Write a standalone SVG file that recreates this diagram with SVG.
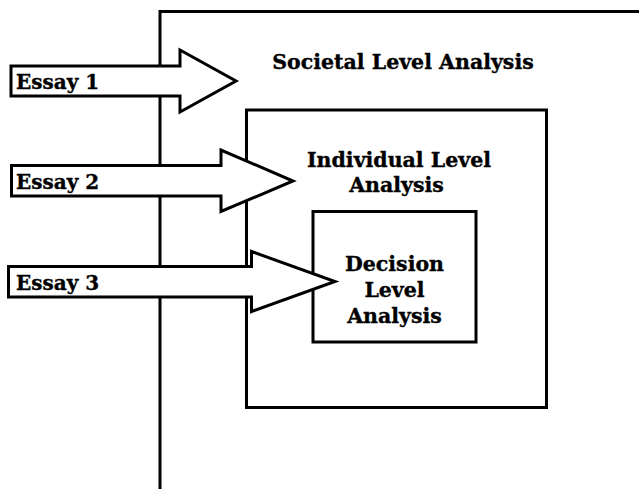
<svg xmlns="http://www.w3.org/2000/svg" width="639" height="489" viewBox="0 0 639 489">
  <style>
    .frame { fill: #ffffff; stroke: #000000; stroke-width: 3; }
    .open { fill: none; stroke: #000000; stroke-width: 3; }
    .arrow { fill: #ffffff; stroke: #000000; stroke-width: 3; stroke-linejoin: miter; }
    .label { font-family: "DejaVu Serif", "Liberation Serif", serif; font-weight: bold; font-size: 20.5px; fill: #000000; stroke: #000000; stroke-width: 0.35; }
    .tag { font-size: 20px; }
    .mid { text-anchor: middle; }
  </style>
  <rect width="639" height="489" fill="#ffffff"/>

  <!-- Outer level: open frame running off the right and bottom edges -->
  <g id="societal">
    <path class="open" d="M160,489 V11.5 H642"/>
    <text class="label mid" x="403" y="68.5">Societal Level Analysis</text>
  </g>

  <g id="individual">
    <rect class="frame" x="246.5" y="110" width="300" height="297.5"/>
    <text class="label mid" x="399" y="166.5">Individual Level</text>
    <text class="label mid" x="396.5" y="192">Analysis</text>
  </g>

  <g id="decision">
    <rect class="frame" x="313" y="211.5" width="163" height="130.5"/>
    <text class="label mid" x="394.5" y="270.5">Decision</text>
    <text class="label mid" x="394.5" y="296.5">Level</text>
    <text class="label mid" x="394.5" y="322.5">Analysis</text>
  </g>

  <!-- Block arrows, drawn over the frames -->
  <g id="connectors">
    <g id="essay1">
      <polygon class="arrow" points="11,66 180,66 180,50 236,81 180,112 180,96 11,96"/>
      <text class="label tag" x="16" y="88.5">Essay 1</text>
    </g>
    <g id="essay2">
      <polygon class="arrow" points="11.5,165.5 221,165.5 221,150 293,181 221,211.5 221,196 11.5,196"/>
      <text class="label tag" x="16" y="189">Essay 2</text>
    </g>
    <g id="essay3">
      <polygon class="arrow" points="8.5,266.5 251.5,266.5 251.5,251.5 335,281.5 251.5,311.5 251.5,297 8.5,297"/>
      <text class="label tag" x="16" y="289.5">Essay 3</text>
    </g>
  </g>
</svg>
